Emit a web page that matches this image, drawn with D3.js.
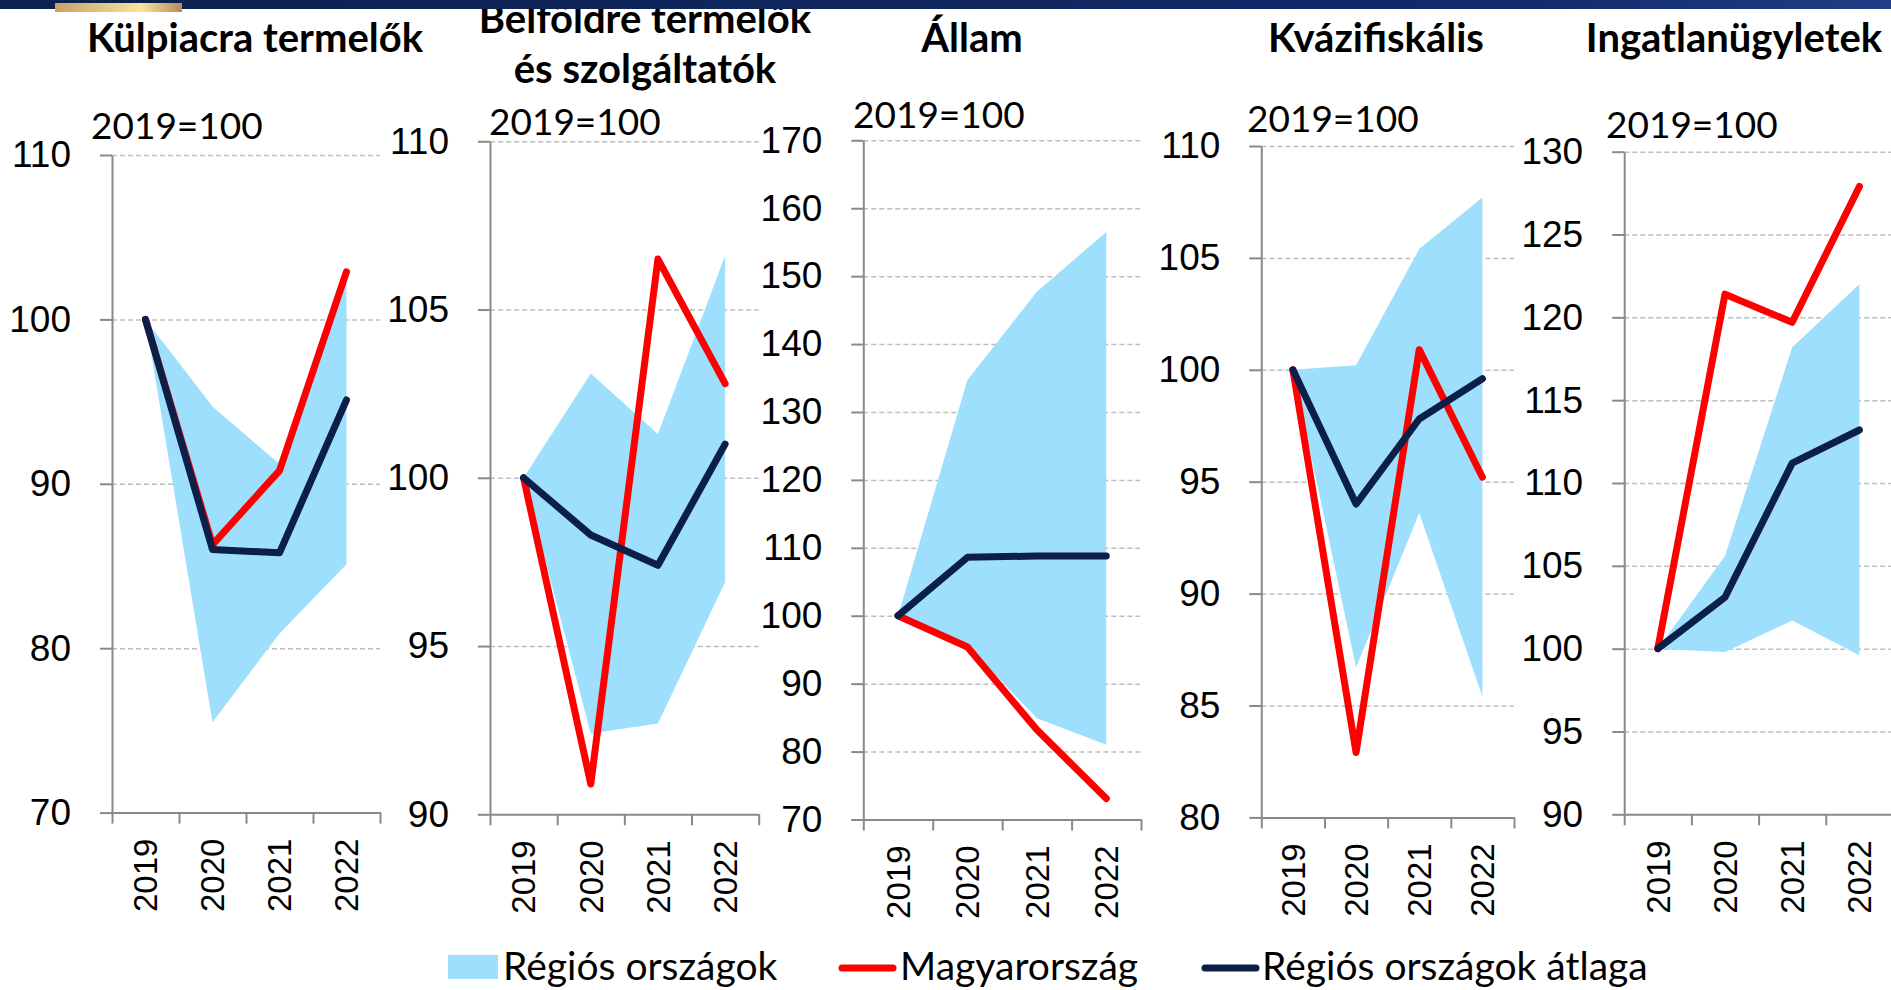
<!DOCTYPE html>
<html>
<head>
<meta charset="utf-8">
<script src="https://cdn.jsdelivr.net/npm/d3@7"></script>
<style>
  body { margin: 0; background: #fff; }
  svg { display: block; font-family: Lato, "Open Sans", sans-serif; font-variant-numeric: tabular-nums; }
  .grid line { stroke: #bfbfbf; stroke-width: 1.5; stroke-dasharray: 5 3; }
  .grid path { display: none; }
  .axis path, .axis line { stroke: #898989; stroke-width: 2; }
  .axis text { fill: #000; font-size: 37px; }
  .years text { font-size: 33px; }
  .years path, .years line { display: none; }
</style>
</head>
<body>
<svg id="chart" width="1891" height="990"></svg>
<script>
const years = ["2019", "2020", "2021", "2022"]

const titles = [
  ["Külpiacra termelők"],
  ["Belföldre termelők", "és szolgáltatók"],
  ["Állam"],
  ["Kvázifiskális"],
  ["Ingatlanügyletek"]
]

const yDomains = [[70, 110], [90, 110], [70, 170], [80, 110], [90, 130]]
const yTicks = [
  [70, 80, 90, 100, 110],
  [90, 95, 100, 105, 110],
  [70, 80, 90, 100, 110, 120, 130, 140, 150, 160, 170],
  [80, 85, 90, 95, 100, 105, 110],
  [90, 95, 100, 105, 110, 115, 120, 125, 130]
]

// Magyarország
const hungary = [
  [100, 86.3, 90.8, 102.9],
  [100, 90.9, 106.5, 102.8],
  [100, 95.4, 83.2, 73.1],
  [100, 82.9, 100.9, 95.2],
  [100, 121.4, 119.7, 127.9]
]

// Régiós országok átlaga
const regionAvg = [
  [100, 86.0, 85.8, 95.1],
  [100, 98.3, 97.4, 101.0],
  [100, 108.6, 108.8, 108.8],
  [100, 94.0, 97.8, 99.6],
  [100, 103.1, 111.2, 113.2]
]

// Régiós országok (sáv alja / teteje)
const bandLow = [
  [100, 75.5, 80.9, 85.1],
  [100, 92.4, 92.7, 96.9],
  [100, 95.6, 84.9, 81.0],
  [100, 86.7, 93.6, 85.4],
  [100, 99.8, 101.7, 99.6]
]
const bandHigh = [
  [100, 94.7, 91.2, 102.4],
  [100, 103.1, 101.3, 106.6],
  [100, 134.7, 147.7, 156.5],
  [100, 100.2, 105.4, 107.7],
  [100, 105.6, 118.2, 122.0]
]

const legendLabels = ["Régiós országok", "Magyarország", "Régiós országok átlaga"]
const baseLabel = "2019=100"

const colors = { band: "#9ddffd", hu: "#ff0000", avg: "#0b1f48" }

// panel frames
const frames = [
  { x0: 112,   x1: 380,   top: 155,   bottom: 812.6, tx: 255, ty: [52],     bx: 91,   by: 139 },
  { x0: 490,   x1: 758.7, top: 141.3, bottom: 814.3, tx: 645, ty: [33, 83], bx: 489,  by: 135 },
  { x0: 863.3, x1: 1141,  top: 140.3, bottom: 819.5, tx: 972, ty: [52],     bx: 853,  by: 128 },
  { x0: 1261.3,x1: 1514,  top: 146,   bottom: 817.4, tx: 1376,ty: [52],     bx: 1247, by: 132 },
  { x0: 1624.2,x1: 1893,  top: 151.7, bottom: 814.3, tx: 1734,ty: [52],     bx: 1606, by: 138 }
]

const svg = d3.select("#chart")

frames.forEach(function(f, i) {
  let g = svg.append("g")

  let x = d3.scaleBand().domain(years).range([f.x0, f.x1])
  let xEdge = d3.scaleLinear().domain([0, years.length]).range([f.x0, f.x1])
  let y = d3.scaleLinear().domain(yDomains[i]).range([f.bottom, f.top])
  let cx = function(d, j) { return x(years[j]) + x.bandwidth() / 2 }

  // dashed grid, skipping the bottom one where the axis sits
  g.append("g")
    .attr("class", "grid")
    .attr("transform", "translate(" + f.x0 + ",0)")
    .call(d3.axisLeft(y).tickValues(yTicks[i].slice(1)).tickSize(-(f.x1 - f.x0)).tickFormat(""))

  let area = d3.area()
    .x(cx)
    .y0(function(d) { return y(d[0]) })
    .y1(function(d) { return y(d[1]) })

  g.append("path")
    .datum(d3.zip(bandLow[i], bandHigh[i]))
    .attr("fill", colors.band)
    .attr("d", area)

  g.append("g")
    .attr("class", "axis")
    .attr("transform", "translate(" + f.x0 + ",0)")
    .call(d3.axisLeft(y).tickValues(yTicks[i]).tickSize(12).tickPadding(29).tickSizeOuter(0))

  g.append("g")
    .attr("class", "axis")
    .attr("transform", "translate(0," + f.bottom + ")")
    .call(d3.axisBottom(xEdge).ticks(years.length).tickSize(11).tickSizeOuter(0).tickFormat(""))

  g.append("g")
    .attr("class", "axis years")
    .attr("transform", "translate(0," + f.bottom + ")")
    .call(d3.axisBottom(x).tickSize(0).tickPadding(0))
    .selectAll("text")
      .attr("transform", "rotate(-90)")
      .attr("text-anchor", "end")
      .attr("x", -26)
      .attr("y", 0)
      .attr("dy", "0.36em")

  let line = d3.line().x(cx).y(function(d) { return y(d) })

  g.append("path")
    .datum(hungary[i])
    .attr("fill", "none")
    .attr("stroke", colors.hu)
    .attr("stroke-width", 7)
    .attr("stroke-linejoin", "round")
    .attr("stroke-linecap", "round")
    .attr("d", line)

  g.append("path")
    .datum(regionAvg[i])
    .attr("fill", "none")
    .attr("stroke", colors.avg)
    .attr("stroke-width", 7)
    .attr("stroke-linejoin", "round")
    .attr("stroke-linecap", "round")
    .attr("d", line)

  // title and base label
  titles[i].forEach(function(t, k) {
    g.append("text")
      .attr("x", f.tx)
      .attr("y", f.ty[k])
      .attr("text-anchor", "middle")
      .attr("font-size", 40)
      .attr("font-weight", 700)
      .text(t)
  })

  g.append("text")
    .attr("x", f.bx)
    .attr("y", f.by)
    .attr("font-size", 37)
    .text(baseLabel)
})

// legend
let legend = svg.append("g").attr("font-size", 39)
legend.append("rect").attr("x", 448).attr("y", 955).attr("width", 50).attr("height", 24).attr("fill", colors.band)
legend.append("text").attr("x", 503).attr("y", 980).text(legendLabels[0])
legend.append("line").attr("x1", 842).attr("x2", 893).attr("y1", 968).attr("y2", 968)
  .attr("stroke", colors.hu).attr("stroke-width", 7).attr("stroke-linecap", "round")
legend.append("text").attr("x", 900).attr("y", 980).text(legendLabels[1])
legend.append("line").attr("x1", 1205).attr("x2", 1256).attr("y1", 968).attr("y2", 968)
  .attr("stroke", colors.avg).attr("stroke-width", 7).attr("stroke-linecap", "round")
legend.append("text").attr("x", 1262).attr("y", 980).text(legendLabels[2])

// slide header strip on top of everything
let defs = svg.append("defs")
let navy = defs.append("linearGradient").attr("id", "navy")
navy.append("stop").attr("offset", "0%").attr("stop-color", "#0d214f")
navy.append("stop").attr("offset", "80%").attr("stop-color", "#13296a")
navy.append("stop").attr("offset", "100%").attr("stop-color", "#223d86")
let gold = defs.append("linearGradient").attr("id", "gold")
gold.append("stop").attr("offset", "0%").attr("stop-color", "#c6a167")
gold.append("stop").attr("offset", "68%").attr("stop-color", "#f7e49e")
gold.append("stop").attr("offset", "100%").attr("stop-color", "#b8895c")

svg.append("rect").attr("x", 0).attr("y", 0).attr("width", 1891).attr("height", 9).attr("fill", "url(#navy)")
svg.append("rect").attr("x", 55).attr("y", 3).attr("width", 127).attr("height", 9).attr("fill", "url(#gold)")
</script>
</body>
</html>
